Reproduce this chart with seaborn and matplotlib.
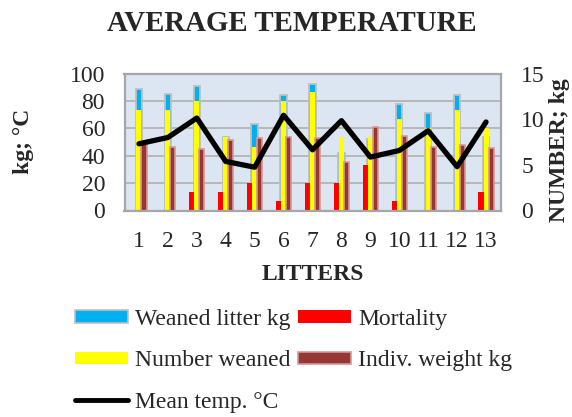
import numpy as np
import pandas as pd
import matplotlib
matplotlib.use("Agg")
import matplotlib.pyplot as plt
from matplotlib.patches import Patch
from matplotlib.lines import Line2D
import seaborn as sns

# Litter-level data
litters = [1, 2, 3, 4, 5, 6, 7, 8, 9, 10, 11, 12, 13]
weaned_litter_kg = [89, 85, 91, 54, 63, 84, 92, 42, 52, 78, 71, 84, 54]
number_weaned = [11, 11, 12, 8, 7, 12, 13, 8, 8, 10, 9, 11, 9]
mortality = [0, 0, 2, 2, 3, 1, 3, 3, 5, 1, 0, 0, 2]
indiv_weight_kg = [7.3, 6.9, 6.7, 7.7, 7.9, 8.1, 7.9, 5.3, 9.1, 8.2, 6.9, 7.2, 6.8]
mean_temp_c = [48.7, 53.3, 67.5, 35.8, 31.6, 69.5, 44.3, 65.6, 39.0, 43.8, 58.2, 32.0, 64.6]

left_ticks = [0, 20, 40, 60, 80, 100]
right_ticks = [0, 5, 10, 15]

series_names = ["Mortality", "Number weaned", "Indiv. weight kg"]

BLUE = "#00B0F0"
RED = "#FF0000"
YELLOW = "#FFFF00"
BROWN = "#953735"
PINK_EDGE = "#D99694"
GRAY_EDGE = "#BFBFBF"
PLOT_BG = "#DCE6F2"
GRID = "#B7B7B7"
FRAME = "#A6A6A6"

sns.set_style("white")
plt.rcParams["font.family"] = ["Liberation Serif", "DejaVu Serif"]

W, H = 572, 417
fig = plt.figure(figsize=(W / 100, H / 100), dpi=100)

# plot rectangle in pixel units
x0, x1, y_top, y_bot = 124.5, 500.5, 73.5, 210.5
ax = fig.add_axes([x0 / W, 1 - y_bot / H, (x1 - x0) / W, (y_bot - y_top) / H])
ax.set_facecolor(PLOT_BG)

# primary axis: weaned litter weight
sns.barplot(x=litters, y=weaned_litter_kg, ax=ax, color=BLUE, width=0.22,
            saturation=1, errorbar=None, edgecolor=GRAY_EDGE, linewidth=1.3,
            zorder=2)
ax.set_ylim(0, 100)
ax.set_yticks(left_ticks)
ax.yaxis.grid(True, color=GRID, linewidth=1.4)
ax.set_axisbelow(True)
for s in ax.spines.values():
    s.set_visible(False)

# secondary axis: counts and individual weight
ax2 = ax.twinx()
long_df = pd.DataFrame({
    "litter": litters * 3,
    "series": np.repeat(series_names, len(litters)),
    "value": mortality + number_weaned + indiv_weight_kg,
})
sns.barplot(data=long_df, x="litter", y="value", hue="series",
            hue_order=series_names, palette=[RED, YELLOW, BROWN],
            width=0.525, gap=0, saturation=1, errorbar=None,
            linewidth=0, ax=ax2, legend=False)
for p in ax2.containers[2]:
    p.set_edgecolor(PINK_EDGE)
    p.set_linewidth(1.2)
ax2.set_ylim(0, 15)
ax2.set_yticks(right_ticks)
for s in ax2.spines.values():
    s.set_color(FRAME)
    s.set_linewidth(1.6)

# overlay axis for the temperature line (uses the left scale)
ax3 = fig.add_axes(ax.get_position(), sharex=ax, sharey=ax)
ax3.set_axis_off()
sns.lineplot(x=np.arange(len(litters)), y=mean_temp_c, ax=ax3, color="black",
             linewidth=3.8, legend=False)
ax.set_xlim(-0.5, len(litters) - 0.5)
ax.set_ylim(0, 100)

ax.tick_params(axis="y", length=0, pad=14, labelsize=17)
ax.tick_params(axis="x", length=0, pad=15, labelsize=17)
ax2.tick_params(axis="y", length=0, pad=15, labelsize=17)
ax.set_xlabel("")
ax.set_ylabel("")
ax2.set_ylabel("")

fig.text(292 / W, 1 - 23.5 / H, "AVERAGE TEMPERATURE", ha="center", va="center",
         fontsize=20.8, fontweight="bold")
fig.text(24 / W, 1 - 141 / H, "kg; °C", rotation=90, ha="center", va="center",
         fontsize=17, fontweight="bold")
fig.text(560 / W, 1 - 150 / H, "NUMBER; kg", rotation=90, ha="center",
         va="center", fontsize=17, fontweight="bold")
fig.text(313 / W, 1 - 274 / H, "LITTERS", ha="center", va="center",
         fontsize=17, fontweight="bold")

handles = [
    Patch(facecolor=BLUE, edgecolor=GRAY_EDGE, linewidth=1.2),
    Patch(facecolor=YELLOW, edgecolor="none"),
    Line2D([0], [0], color="black", linewidth=3.5, solid_capstyle="round"),
    Patch(facecolor=RED, edgecolor="none"),
    Patch(facecolor=BROWN, edgecolor=PINK_EDGE, linewidth=1.2),
]
labels = ["Weaned litter kg", "Number weaned", "Mean temp. °C",
          "Mortality", "Indiv. weight kg"]
fig.legend(handles, labels, ncol=2, loc="upper left",
           bbox_to_anchor=(75 / W, 1 - 309 / H), frameon=False, fontsize=17,
           handlelength=2.25, handleheight=0.42, handletextpad=0.3,
           columnspacing=0.3, labelspacing=0.86, borderpad=0, borderaxespad=0)

fig.savefig("out.png", dpi=100, facecolor="white")
